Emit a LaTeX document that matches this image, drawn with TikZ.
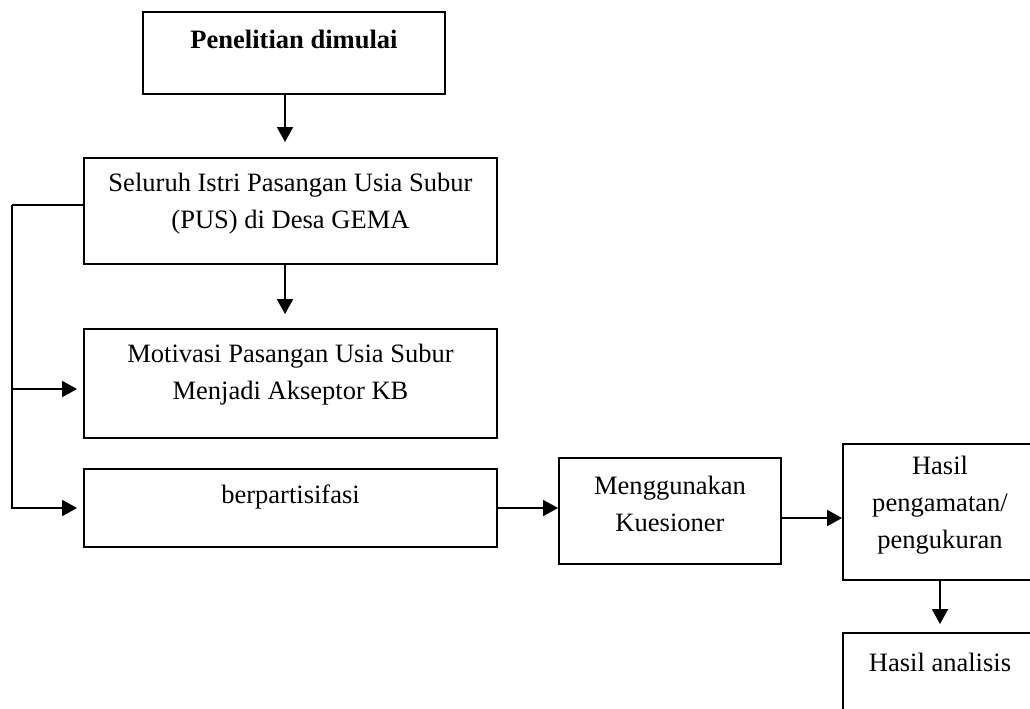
\documentclass[tikz,border=0pt]{standalone}
\usepackage{fontspec}
\setmainfont{Liberation Serif}
\usetikzlibrary{arrows.meta,calc}

\begin{document}
\begin{tikzpicture}[x=0.02cm,y=-0.02cm,
	box/.style={draw,line width=1.1pt,inner sep=0pt},
	lbl/.style={align=center,font=\fontsize{15.1}{21}\selectfont},
	arr/.style={-{Triangle[length=0.3cm,width=0.32cm]},line width=1.1pt},
	wire/.style={line width=1.1pt}]
		\clip (0,0) rectangle (1030,708);
		\node[box,minimum width=6.04cm,minimum height=1.64cm,label={[lbl,yshift=0.28cm]center:{\bfseries Penelitian dimulai}}] (mulai) at (294,53) {};
		\node[box,minimum width=8.26cm,minimum height=2.12cm,label={[lbl,yshift=0.15cm]center:{Seluruh Istri Pasangan Usia Subur\\(PUS) di Desa GEMA}}] (pus) at (290.5,211) {};
		\node[box,minimum width=8.26cm,minimum height=2.18cm,label={[lbl,yshift=0.17cm]center:{Motivasi Pasangan Usia Subur\\Menjadi Akseptor KB}}] (motivasi) at (290.5,383.5) {};
		\node[box,minimum width=8.26cm,minimum height=1.56cm,label={[lbl,yshift=0.22cm]center:{berpartisifasi}}] (partisi) at (290.5,508) {};
		\node[box,minimum width=4.44cm,minimum height=2.12cm,label={[lbl,yshift=0.15cm]center:{Menggunakan\\Kuesioner}}] (kuesioner) at (670,511) {};
		\node[box,minimum width=3.88cm,minimum height=2.72cm,label={[lbl,yshift=0.14cm]center:{Hasil\\pengamatan/\\pengukuran}}] (amatan) at (940,512) {};
		\node[box,minimum width=3.88cm,minimum height=2cm,label={[lbl,yshift=0.42cm]center:{Hasil analisis}}] (analisis) at (940,683) {};
		% alur utama
		\draw[arr,shorten >=0.3cm] ([xshift=-0.18cm]mulai.south) -- ([xshift=-0.18cm]mulai.south |- pus.north);
		\draw[arr,shorten >=0.28cm] ([xshift=-0.11cm]pus.south) -- ([xshift=-0.11cm]pus.south |- motivasi.north);
		% garis samping kiri
		\coordinate (bus) at (12,205);
		\coordinate (m3) at ([yshift=-0.11cm]motivasi.west);
		\draw[wire] ([yshift=0.12cm]pus.west) -- (bus);
		\draw[arr,shorten >=0.12cm] (bus) |- (partisi.west);
		\draw[arr,shorten >=0.12cm] (bus |- m3) -- (m3);
		\draw[arr] (partisi.east) -- (partisi.east -| kuesioner.west);
		\draw[arr] ([yshift=-0.14cm]kuesioner.east) -- ([yshift=-0.14cm]kuesioner.east -| amatan.west);
		\draw[arr,shorten >=0.16cm] (amatan.south) -- (analisis.north);
	\end{tikzpicture}
\end{document}
